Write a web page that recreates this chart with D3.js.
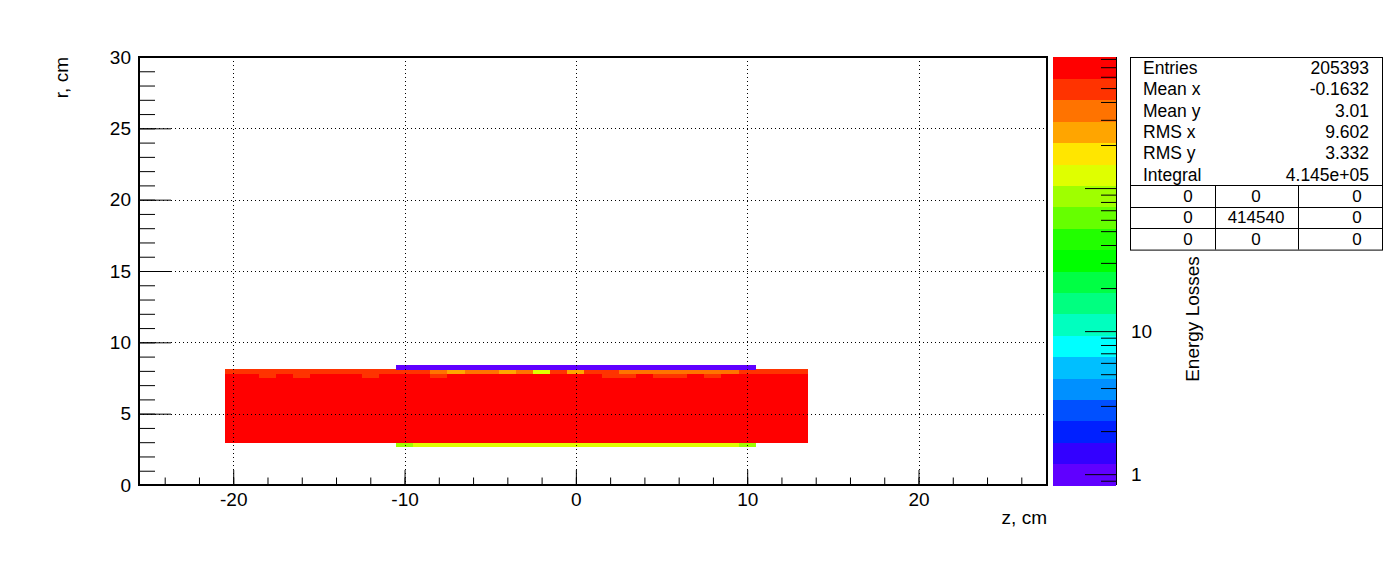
<!DOCTYPE html>
<html lang="en">
<head>
    <title>Energy Losses, r vs z</title>
    <script src="https://d3js.org/d3.v7.min.js" charset="utf-8"></script>
    <style type="text/css">
        body
        {
            margin: 0;
            background-color: white;
        }
        svg
        {
            display: block;
            font-family: "Liberation Sans", Arial, sans-serif;
        }
    </style>
</head>
<body>
    <div id="chart_div"></div>
    <script>
    "use strict";
    // binning of the histogram: z bins are 1 cm, r bins 0.3 cm
    var z_range = [-25.5, 27.5];
    var r_range = [0, 30];
    var z_bin = 1.0;
    var r_bin = 0.3;

    // lower r edge of every filled row
    var r_rows = [2.7, 3.0, 3.3, 3.6, 3.9, 4.2, 4.5, 4.8, 5.1, 5.4, 5.7, 6.0, 6.3, 6.6, 6.9, 7.2, 7.5, 7.8, 8.1];
    // what each row holds, as runs of [z from, z to, content]
    var row_runs = [
        [[-10.5, -9.5, 88], [-9.5, 9.5, 124], [9.5, 10.5, 88]],
        [[-20.5, 13.5, 735]],
        [[-20.5, 13.5, 735]],
        [[-20.5, 13.5, 735]],
        [[-20.5, 13.5, 735]],
        [[-20.5, 13.5, 735]],
        [[-20.5, 13.5, 735]],
        [[-20.5, 13.5, 735]],
        [[-20.5, 13.5, 735]],
        [[-20.5, 13.5, 735]],
        [[-20.5, 13.5, 735]],
        [[-20.5, 13.5, 735]],
        [[-20.5, 13.5, 735]],
        [[-20.5, 13.5, 735]],
        [[-20.5, 13.5, 735]],
        [[-20.5, 13.5, 735]],
        [[-20.5, -18.5, 735], [-18.5, -17.5, 492], [-17.5, -16.5, 735], [-16.5, -15.5, 492], [-15.5, -12.5, 735],
         [-12.5, -11.5, 492], [-11.5, -8.5, 735], [-8.5, -7.5, 492], [-7.5, 1.5, 735], [1.5, 3.5, 492],
         [3.5, 4.5, 735], [4.5, 6.5, 492], [6.5, 7.5, 735], [7.5, 8.5, 492], [8.5, 13.5, 735]],
        [[-20.5, -8.5, 492], [-8.5, -7.5, 348], [-7.5, -6.5, 247], [-6.5, -4.5, 348], [-4.5, -3.5, 247],
         [-3.5, -2.5, 348], [-2.5, -1.5, 124], [-1.5, -0.5, 492], [-0.5, 0.5, 247], [0.5, 2.5, 492],
         [2.5, 9.5, 348], [9.5, 13.5, 492]],
        [[-10.5, 10.5, 1]]
    ];

    var z_ticks = [-20, -10, 0, 10, 20];
    var r_ticks = [0, 5, 10, 15, 20, 25, 30];

    // colour palette (20 levels), bottom to top
    var palette = ["#6000ff", "#3300ff", "#0020ff", "#0050ff", "#0090ff", "#00bfff", "#00ffff", "#00ffbf",
                   "#00ff80", "#00ff44", "#00ff00", "#22ff00", "#66ff00", "#9fff00", "#dfff00", "#ffe600",
                   "#ffa500", "#ff7300", "#ff3300", "#ff0000"];
    var e_range = [0.84, 825];
    var e_majors = [1, 10, 100];
    var e_labels = [1, 10];

    var stat_names = ["Entries", "Mean x", "Mean y", "RMS x", "RMS y", "Integral"];
    var stat_values = ["205393", "-0.1632", "3.01", "9.602", "3.332", "4.145e+05"];
    var flow_table = [["0", "0", "0"], ["0", "414540", "0"], ["0", "0", "0"]];

    var svg_width = 1396;
    var svg_height = 572;
    var frame = {left: 139, right: 1047, top: 57, bottom: 485};
    var bar = {left: 1053, right: 1116};
    var stats = {left: 1130, right: 1382, top: 57, row: 21.4};
    var font_size = 19;

    var svg = d3.select("#chart_div")
        .append("svg")
        .attr("width", svg_width)
        .attr("height", svg_height);

    var zscale = d3.scaleLinear().domain(z_range).range([frame.left, frame.right]);
    var rscale = d3.scaleLinear().domain(r_range).range([frame.bottom, frame.top]);
    var escale = d3.scaleLog().domain(e_range).range([frame.bottom, frame.top]);
    var colour = d3.scaleQuantize()
        .domain([Math.log10(e_range[0]), Math.log10(e_range[1])])
        .range(palette);

    // unpack runs into single bins
    var cells = [];
    r_rows.forEach(function(r, i)
    {
        row_runs[i].forEach(function(run)
        {
            var n = Math.round((run[1] - run[0]) / z_bin);
            for (var k = 0; k < n; k++)
            {
                cells.push({z: run[0] + k * z_bin, r: r, v: run[2]});
            }
        });
    });

    svg.append("g")
        .attr("shape-rendering", "crispEdges")
        .selectAll("rect")
        .data(cells)
        .enter()
        .append("rect")
        .attr("x", function(d) { return zscale(d.z); })
        .attr("y", function(d) { return rscale(d.r + r_bin); })
        .attr("width", function(d) { return zscale(d.z + z_bin) - zscale(d.z) + 0.5; })
        .attr("height", function(d) { return rscale(d.r) - rscale(d.r + r_bin) + 0.3; })
        .attr("fill", function(d) { return colour(Math.log10(d.v)); });

    // dotted grid
    var grid = svg.append("g")
        .attr("stroke", "black")
        .attr("stroke-width", 1)
        .attr("stroke-dasharray", "1,3");
    grid.selectAll(".gz")
        .data(z_ticks)
        .enter()
        .append("line")
        .attr("x1", function(d) { return Math.round(zscale(d)) + 0.5; })
        .attr("x2", function(d) { return Math.round(zscale(d)) + 0.5; })
        .attr("y1", frame.top)
        .attr("y2", frame.bottom);
    grid.selectAll(".gr")
        .data(r_ticks.slice(1, -1))
        .enter()
        .append("line")
        .attr("y1", function(d) { return Math.round(rscale(d)) + 0.5; })
        .attr("y2", function(d) { return Math.round(rscale(d)) + 0.5; })
        .attr("x1", frame.left)
        .attr("x2", frame.right);

    // axes, ticks inside the frame; plain hyphen for the minus sign
    var plain = function(d) { return String(d); };
    function style_axis(g)
    {
        g.select(".domain").remove();
        g.attr("font-size", font_size)
            .attr("font-family", "'Liberation Sans', Arial, sans-serif");
    }
    svg.append("g")
        .attr("transform", "translate(0," + frame.bottom + ")")
        .call(d3.axisBottom(zscale).tickValues(d3.range(-24, 27.5, 2)).tickSize(-7.5).tickFormat(""))
        .call(style_axis);
    svg.append("g")
        .attr("transform", "translate(0," + frame.bottom + ")")
        .call(d3.axisBottom(zscale).tickValues(z_ticks).tickSize(-15).tickPadding(8).tickFormat(plain))
        .call(style_axis);
    svg.append("g")
        .attr("transform", "translate(" + frame.left + ",0)")
        .call(d3.axisLeft(rscale).tickValues(d3.range(0, 30.5, 1)).tickSize(-16).tickFormat(""))
        .call(style_axis);
    svg.append("g")
        .attr("transform", "translate(" + frame.left + ",0)")
        .call(d3.axisLeft(rscale).tickValues(r_ticks).tickSize(-32).tickPadding(8).tickFormat(plain))
        .call(style_axis);

    svg.append("rect")
        .attr("x", frame.left)
        .attr("y", frame.top)
        .attr("width", frame.right - frame.left)
        .attr("height", frame.bottom - frame.top)
        .attr("fill", "none")
        .attr("stroke", "black")
        .attr("stroke-width", 2);

    svg.append("text")
        .attr("x", frame.right)
        .attr("y", 524)
        .attr("text-anchor", "end")
        .attr("font-size", font_size)
        .text("z, cm");
    svg.append("text")
        .attr("transform", "translate(68," + frame.top + ") rotate(-90)")
        .attr("text-anchor", "end")
        .attr("font-size", font_size)
        .text("r, cm");

    // colour bar
    svg.append("g")
        .attr("shape-rendering", "crispEdges")
        .selectAll("rect")
        .data(palette)
        .enter()
        .append("rect")
        .attr("x", bar.left)
        .attr("width", bar.right - bar.left)
        .attr("y", function(d)
        {
            return escale(Math.pow(10, colour.invertExtent(d)[1]));
        })
        .attr("height", function(d)
        {
            var ext = colour.invertExtent(d);
            return escale(Math.pow(10, ext[0])) - escale(Math.pow(10, ext[1])) + 0.5;
        })
        .attr("fill", function(d) { return d; });

    var minor_e = escale.ticks().filter(function(d) { return e_majors.indexOf(d) < 0; });
    svg.append("g")
        .attr("transform", "translate(" + bar.right + ",0)")
        .call(d3.axisRight(escale).tickValues(minor_e).tickSize(-15).tickFormat(""))
        .call(style_axis);
    svg.append("g")
        .attr("transform", "translate(" + bar.right + ",0)")
        .call(d3.axisRight(escale).tickValues(e_majors).tickSize(-31).tickPadding(15)
            .tickFormat(function(d) { return e_labels.indexOf(d) >= 0 ? String(d) : ""; }))
        .call(style_axis);
    svg.append("line")
        .attr("x1", bar.right + 0.5)
        .attr("x2", bar.right + 0.5)
        .attr("y1", frame.top)
        .attr("y2", frame.bottom)
        .attr("stroke", "black");

    svg.append("text")
        .attr("transform", "translate(1199,319) rotate(-90)")
        .attr("text-anchor", "middle")
        .attr("font-size", font_size)
        .text("Energy Losses");

    // statistics box
    var n_rows = stat_names.length + flow_table.length;
    var box = svg.append("g");
    box.append("rect")
        .attr("x", stats.left + 0.5)
        .attr("y", stats.top + 0.5)
        .attr("width", stats.right - stats.left)
        .attr("height", n_rows * stats.row)
        .attr("fill", "white")
        .attr("stroke", "black");
    box.selectAll(".sname")
        .data(stat_names)
        .enter()
        .append("text")
        .attr("x", stats.left + 13)
        .attr("y", function(d, i) { return stats.top + (i + 0.5) * stats.row; })
        .attr("dy", "0.35em")
        .attr("font-size", 17.5)
        .text(function(d) { return d; });
    box.selectAll(".svalue")
        .data(stat_values)
        .enter()
        .append("text")
        .attr("x", stats.right - 13)
        .attr("y", function(d, i) { return stats.top + (i + 0.5) * stats.row; })
        .attr("dy", "0.35em")
        .attr("text-anchor", "end")
        .attr("font-size", 17.5)
        .text(function(d) { return d; });

    var table_top = stats.top + stat_names.length * stats.row;
    var col_edges = [stats.left, 1215, 1298, stats.right];
    var col_text = [1188, 1256, 1357];
    for (var j = 0; j < flow_table.length; j++)
    {
        box.append("line")
            .attr("x1", stats.left)
            .attr("x2", stats.right)
            .attr("y1", Math.round(table_top + j * stats.row) + 0.5)
            .attr("y2", Math.round(table_top + j * stats.row) + 0.5)
            .attr("stroke", "black");
    }
    [1, 2].forEach(function(c)
    {
        box.append("line")
            .attr("x1", col_edges[c] + 0.5)
            .attr("x2", col_edges[c] + 0.5)
            .attr("y1", table_top)
            .attr("y2", table_top + flow_table.length * stats.row)
            .attr("stroke", "black");
    });
    flow_table.forEach(function(row, j)
    {
        row.forEach(function(cell, c)
        {
            box.append("text")
                .attr("x", cell.length > 1 ? 1256 : col_text[c])
                .attr("y", table_top + (j + 0.5) * stats.row)
                .attr("dy", "0.35em")
                .attr("text-anchor", "middle")
                .attr("font-size", 17)
                .text(cell);
        });
    });
    </script>
</body>
</html>
